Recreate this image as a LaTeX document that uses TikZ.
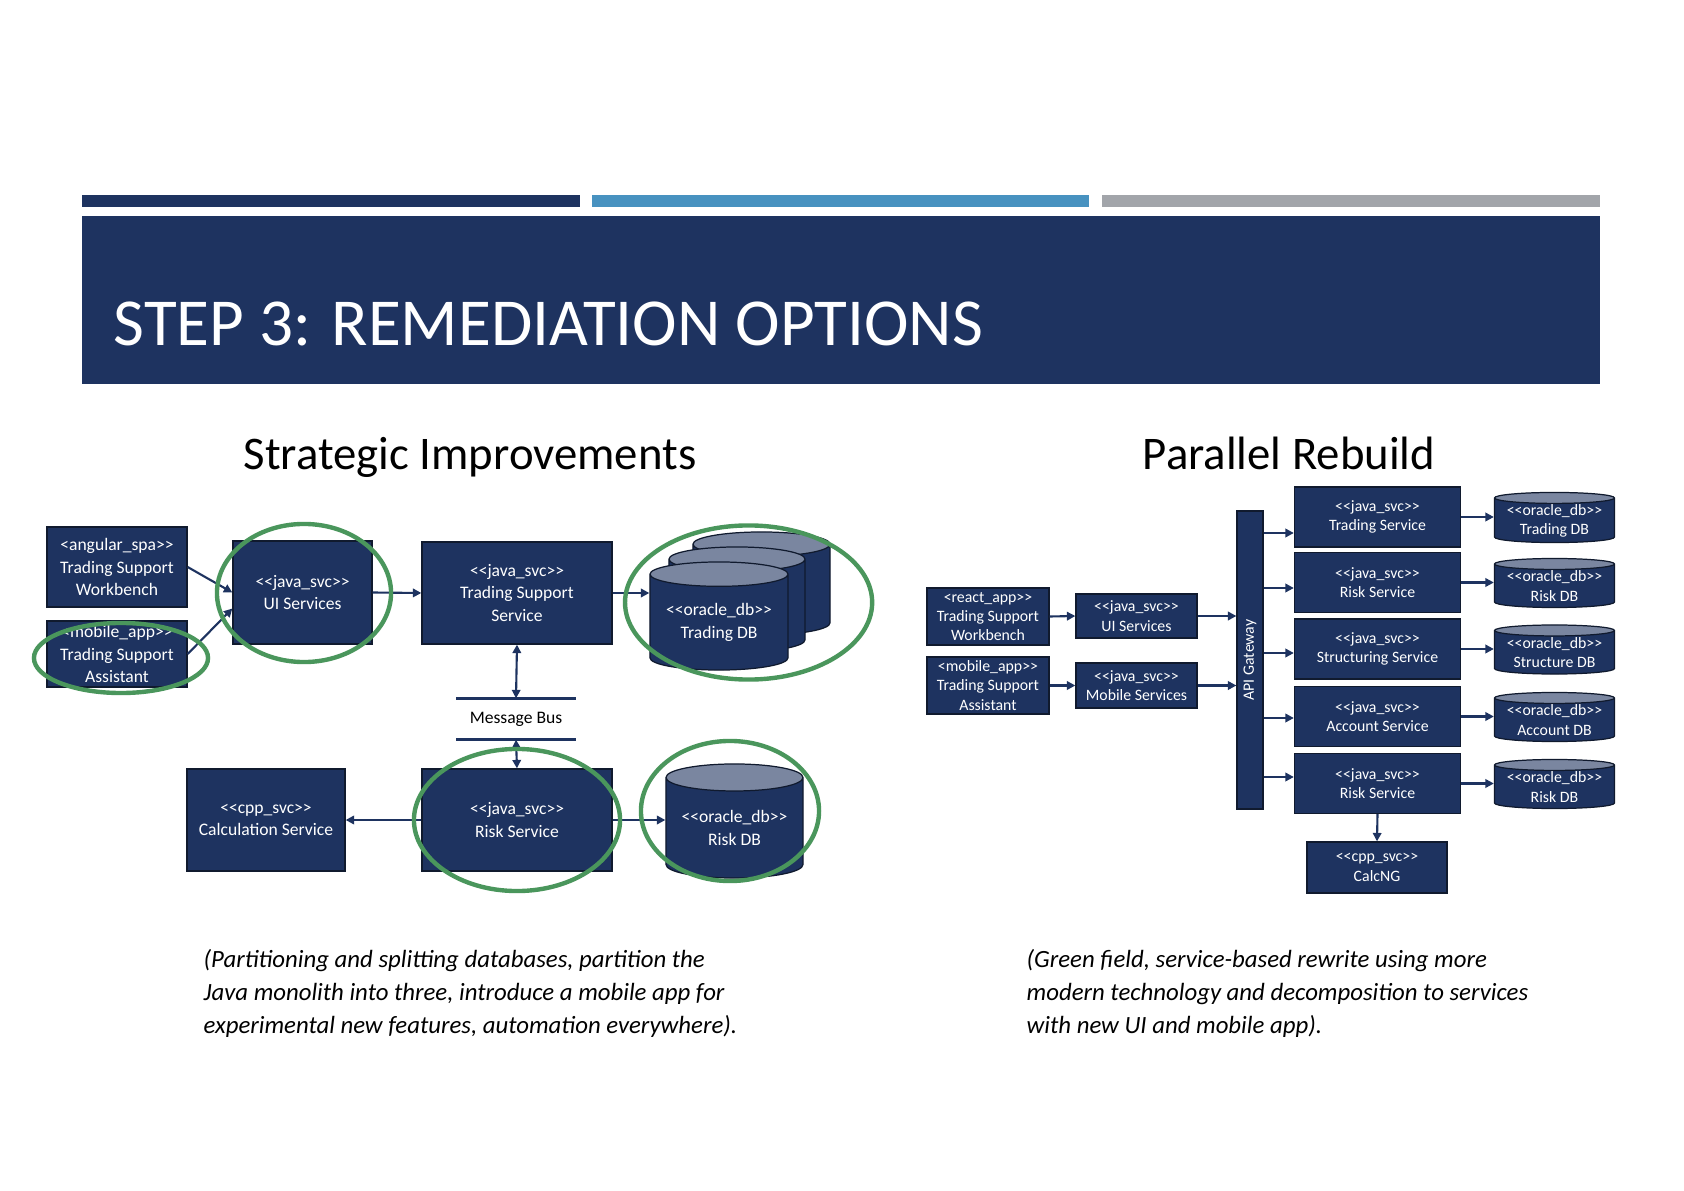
\documentclass[tikz,border=0pt]{standalone}
\usepackage{fontspec}
\setmainfont{Carlito}
\usetikzlibrary{arrows.meta,shapes.geometric,calc}
\definecolor{themenavy}{RGB}{30,51,96}
\definecolor{boxline}{RGB}{16,26,46}
\definecolor{barblue}{RGB}{72,146,192}
\definecolor{bargray}{RGB}{162,165,170}
\definecolor{hlgreen}{RGB}{74,150,92}
\definecolor{dbtop}{RGB}{122,134,160}
\newcommand{\stereo}[1]{<{}<#1>{}>}
\newcommand{\fsz}[2]{\fontsize{#1}{#2}\selectfont}

\begin{document}
\begin{tikzpicture}[x=0.01cm,y=-0.01cm,every node/.style={inner sep=0pt},
    svc/.style={draw=boxline,fill=themenavy,text=white,line width=0.35pt,align=center,font=\fsz{5}{6.4}},
    rsvc/.style={svc,font=\fsz{4.5}{5.5}},
    db/.style={cylinder,shape border rotate=90,aspect=0.23,anchor=shape center,draw=boxline,line width=0.35pt,cylinder uses custom fill,cylinder body fill=themenavy,cylinder end fill=dbtop,text=white,align=center,font=\fsz{5}{6.4}},
    rdb/.style={db,aspect=0.115,font=\fsz{4.5}{5.5}},
    conn/.style={draw=themenavy,line width=0.6pt,-{Triangle[length=2.4pt,width=2.4pt]}},
    both/.style={conn,{Triangle[length=2.4pt,width=2.4pt]}-{Triangle[length=2.4pt,width=2.4pt]}},
    hl/.style={draw=hlgreen,line width=1.25pt}]
  \useasboundingbox[fill=white] (0,0) rectangle (1684,1191);

  % header
  \fill[themenavy] (81.6,195.5) rectangle (580,207);
  \fill[barblue] (591.8,195.5) rectangle (1089,207);
  \fill[bargray] (1102,195.5) rectangle (1600,207);
  \fill[themenavy] (81.6,216) rectangle (1600,384.5);
  \node[anchor=base west,text=white,font=\fsz{19.1}{21}] (title) at (113,346) {STEP 3: REMEDIATION OPTIONS};
  \node[anchor=base,font=\fsz{13.3}{15}] (lefthead) at (470,469.5) {Strategic Improvements};
  \node[anchor=base,font=\fsz{13.3}{15}] (righthead) at (1289,469.5) {Parallel Rebuild};

  % strategic improvements
  \node[svc,minimum width=1.40cm,minimum height=0.80cm] (wb) at (117,567) {<angular\_spa>{}>\\Trading Support\\Workbench};
  \node[svc,minimum width=1.40cm,minimum height=0.66cm] (ma) at (117,654) {<mobile\_app>{}>\\Trading Support\\Assistant};
  \node[svc,minimum width=1.39cm,minimum height=1.03cm] (ui) at (302.5,592.5) {\stereo{java\_svc}\\UI Services};
  \node[svc,minimum width=1.90cm,minimum height=1.02cm] (tss) at (517,593) {\stereo{java\_svc}\\Trading Support\\Service};
  \node[db,minimum width=1.37cm,minimum height=1.03cm] (tdb3) at (761.5,583.5) {\phantom{\stereo{oracle\_db}}\\\phantom{Trading DB}};
  \node[db,minimum width=1.36cm,minimum height=1.05cm] (tdb2) at (737,599.5) {\phantom{\stereo{oracle\_db}}\\\phantom{Trading DB}};
  \node[db,minimum width=1.38cm,minimum height=1.08cm] (tdb) at (719,616) {\stereo{oracle\_db}\\Trading DB};
  \node[minimum width=1.18cm,minimum height=0.40cm,font=\fsz{5}{6}] (bus) at (516,719) {Message Bus};
  \node[svc,minimum width=1.90cm,minimum height=1.02cm] (rsk) at (517,820) {\stereo{java\_svc}\\Risk Service};
  \node[svc,minimum width=1.58cm,minimum height=1.02cm] (calc) at (266,820) {\stereo{cpp\_svc}\\Calculation Service};
  \node[db,aspect=0.255,minimum width=1.37cm,minimum height=1.14cm] (rdb) at (734.5,821) {\stereo{oracle\_db}\\Risk DB};

  \draw[conn] (wb.east) -- (ui.west);
  \draw[conn] (ma.east) -- ($(ui.west)+(0,16)$);
  \draw[conn] (ui.east) -- (tss.west);
  \draw[conn] (tss.east) -- (tss.east -| tdb.west);
  \draw[themenavy,line width=0.8pt] (bus.north west) -- (bus.north east);
  \draw[themenavy,line width=0.8pt] (bus.south west) -- (bus.south east);
  \draw[both] (tss.south) -- (bus.north);
  \draw[both] (bus.south) -- (rsk.north);
  \draw[conn] (rsk.west) -- (calc.east);
  \draw[conn] (rsk.east) -- (rsk.east -| rdb.west);

  \draw[hl] (304,593) ellipse [x radius=0.87cm,y radius=0.69cm];
  \draw[hl] (121,658) ellipse [x radius=0.87cm,y radius=0.35cm];
  \draw[hl] (748.6,602.5) ellipse [x radius=1.235cm,y radius=0.77cm];
  \draw[hl] (rsk) ellipse [x radius=1.03cm,y radius=0.71cm];
  \draw[hl] (730,811) ellipse [x radius=0.89cm,y radius=0.70cm];

  % parallel rebuild
  \node[rsvc,minimum width=1.22cm,minimum height=0.57cm] (rwb) at (988,616.5) {<react\_app>{}>\\Trading Support\\Workbench};
  \node[rsvc,minimum width=1.22cm,minimum height=0.57cm] (ras) at (988,685.5) {<mobile\_app>{}>\\Trading Support\\Assistant};
  \node[rsvc,minimum width=1.21cm,minimum height=0.44cm] (rui) at (1136.5,616) {\stereo{java\_svc}\\UI Services};
  \node[rsvc,minimum width=1.21cm,minimum height=0.45cm] (rmob) at (1136.5,685.5) {\stereo{java\_svc}\\Mobile Services};
  \node[rsvc,minimum width=0.26cm,minimum height=2.98cm] (gw) at (1250,660) {\rotatebox{90}{API Gateway}};
  \draw[conn] (rwb.east) -- (rui.west);
  \draw[conn] (ras.east) -- (rmob.west);
  \draw[conn] (rui.east) -- (rui.east -| gw.west);
  \draw[conn] (rmob.east) -- (rmob.east -| gw.west);

  \foreach \yy/\ay/\sname/\dname [count=\i] in {517/533/Trading Service/Trading DB,582.5/588/Risk Service/Risk DB,649/653/Structuring Service/Structure DB,716.5/718/Account Service/Account DB,783.5/777/Risk Service/Risk DB}{
    \node[rsvc,minimum width=1.66cm,minimum height=0.60cm] (svc\i) at (1377.5,\yy) {\stereo{java\_svc}\\\sname};
    \node[rdb,minimum width=1.20cm,minimum height=0.49cm] (db\i) at (1554.5,\yy+0.5) {\stereo{oracle\_db}\\\dname};
    \coordinate (gwout\i) at (1263,\ay);
    \draw[conn] (gw.east |- gwout\i) -- (svc\i.west |- gwout\i);
    \draw[conn] (svc\i.east) -- (svc\i.east -| db\i.west);
  }
  \node[rsvc,minimum width=1.40cm,minimum height=0.51cm] (calcng) at (1377,867.5) {\stereo{cpp\_svc}\\CalcNG};
  \draw[conn] (svc5.south) -- (calcng.north);

  % captions
  \node[anchor=north west,align=left,font=\fsz{7.05}{9.4}\itshape] (leftnote) at (203,949) {(Partitioning and splitting databases, partition the\\Java monolith into three, introduce a mobile app for\\experimental new features, automation everywhere).};
  \node[anchor=north west,align=left,font=\fsz{7.05}{9.4}\itshape] (rightnote) at (1026,949) {(Green field, service-based rewrite using more\\modern technology and decomposition to services\\with new UI and mobile app).};
\end{tikzpicture}
\end{document}
